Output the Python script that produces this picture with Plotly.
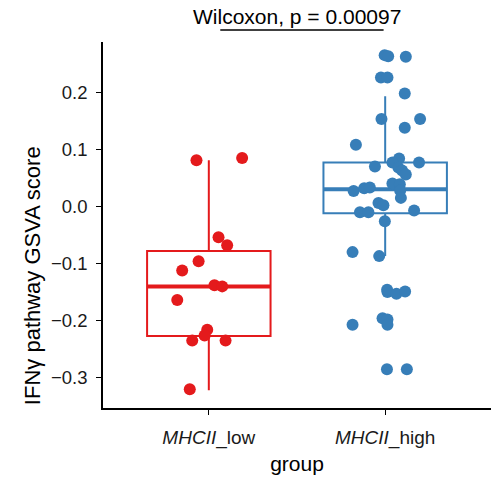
import plotly.graph_objects as go

# ---- data ----
groups = ["MHCII_low", "MHCII_high"]
tick_labels = ["<i>MHCII</i>_low", "<i>MHCII</i>_high"]
group_pos = [1, 2]

low_values = [0.081, 0.085, -0.054, -0.068, -0.096, -0.112, -0.138, -0.140,
              -0.164, -0.216, -0.226, -0.235, -0.235, -0.320]
low_jitter = [-0.070, 0.189, 0.055, 0.104, -0.058, -0.151, 0.032, 0.076,
              -0.179, -0.009, -0.024, -0.094, 0.095, -0.108]

high_values = [0.265, 0.263, 0.262, 0.226, 0.226, 0.198, 0.153, 0.153, 0.138,
               0.108, 0.084, 0.077, 0.077, 0.070, 0.068, 0.063, 0.056, 0.027,
               0.032, 0.033, 0.040, 0.039, 0.028, 0.015, 0.006, 0.002, -0.007,
               -0.010, -0.010, -0.026, -0.080, -0.087, -0.150, -0.146, -0.153,
               -0.149, -0.207, -0.196, -0.198, -0.207, -0.285, -0.285]
high_jitter = [-0.003, 0.017, 0.117, -0.024, 0.013, 0.111, -0.021, 0.198, 0.111,
               -0.166, 0.079, 0.041, 0.192, -0.058, 0.075, 0.096, 0.117, -0.179,
               -0.119, -0.087, 0.041, 0.083, 0.085, 0.089, -0.038, -0.010, 0.164,
               -0.143, -0.095, -0.002, -0.185, -0.034, 0.013, 0.011, 0.064,
               0.113, -0.185, -0.015, 0.013, 0.013, 0.010, 0.123]

# box statistics
box_q1 = [-0.227, -0.012]
box_median = [-0.140, 0.030]
box_q3 = [-0.078, 0.077]
box_lower = [-0.322, -0.087]
box_upper = [0.081, 0.193]

colors = ["#E41A1C", "#377EB8"]
box_width = 0.7

y_ticks = [-0.3, -0.2, -0.1, 0.0, 0.1, 0.2]
y_tick_text = ["\u22120.3", "\u22120.2", "\u22120.1", "0.0", "0.1", "0.2"]

test_label = "Wilcoxon, p = 0.00097"
bracket_x = [1.065, 1.991]

values = [low_values, high_values]
jitters = [low_jitter, high_jitter]

fig = go.Figure()

for i in range(2):
    fig.add_trace(go.Box(
        x=[group_pos[i]], q1=[box_q1[i]], median=[box_median[i]], q3=[box_q3[i]],
        lowerfence=[box_lower[i]], upperfence=[box_upper[i]],
        width=box_width, line=dict(color=colors[i], width=2),
        fillcolor="rgba(255,255,255,0)", whiskerwidth=0, boxpoints=False,
        showlegend=False, hoverinfo="skip"))
    # thicker median line (as in ggplot)
    fig.add_trace(go.Scatter(
        x=[group_pos[i] - box_width / 2, group_pos[i] + box_width / 2],
        y=[box_median[i], box_median[i]], mode="lines",
        line=dict(color=colors[i], width=4), showlegend=False, hoverinfo="skip"))

for i in range(2):
    fig.add_trace(go.Scatter(
        x=[group_pos[i] + j for j in jitters[i]], y=values[i], mode="markers",
        marker=dict(color=colors[i], size=12, line=dict(width=0)),
        name=groups[i], showlegend=False))

font = "Liberation Sans, Arial, sans-serif"

fig.update_layout(
    width=491, height=479,
    margin=dict(l=103, r=0, t=42, b=71),
    plot_bgcolor="white", paper_bgcolor="white",
    font=dict(family=font, color="#000000"),
    xaxis=dict(range=[0.4, 2.6], tickvals=group_pos, ticktext=tick_labels,
               automargin=False,
               showgrid=False, zeroline=False, showline=True, linecolor="black",
               linewidth=1.6, ticks="outside", ticklen=5, tickwidth=1.4,
               tickcolor="black", tickfont=dict(size=19, color="#1a1a1a"),
               ticklabelstandoff=6,
               title=dict(text="group", font=dict(size=21, color="black"), standoff=9)),
    yaxis=dict(range=[-0.353, 0.288], tickvals=y_ticks, ticktext=y_tick_text,
               automargin=False,
               showgrid=False, zeroline=False, showline=True, linecolor="black",
               linewidth=1.6, ticks="outside", ticklen=5, tickwidth=1.4,
               tickcolor="black", tickfont=dict(size=18.5, color="#1a1a1a"),
               ticklabelstandoff=5),
)

fig.add_annotation(text="IFN\u03b3 pathway GSVA score", xref="paper", yref="paper",
                   x=-0.183, y=0.363, textangle=-90, showarrow=False,
                   font=dict(size=22, color="black"), xanchor="center", yanchor="middle")

fig.add_annotation(text=test_label, xref="x", yref="paper", x=1.502, y=1.071,
                   showarrow=False, font=dict(size=21, color="black"),
                   xanchor="center", yanchor="middle", borderpad=0)
fig.add_shape(type="line", xref="x", yref="paper", x0=bracket_x[0], x1=bracket_x[1],
              y0=1.0328, y1=1.0328, line=dict(color="black", width=1.6))

# remove the browser's default body margin so the figure fills the window
fig.write_html("out.html", config={"displayModeBar": False},
               post_script="document.body.style.margin='0px';")
